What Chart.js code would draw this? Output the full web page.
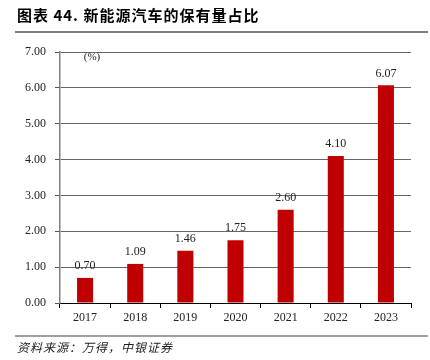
<!DOCTYPE html>
<html><head><meta charset="utf-8">
<script src="https://cdn.jsdelivr.net/npm/chart.js@4/dist/chart.umd.min.js"></script>
<style>html,body{margin:0;padding:0;background:#fff}#wrap{width:430px;height:360px;position:relative}</style>
</head><body><div id="wrap"><canvas id="c" width="430" height="360"></canvas></div>
<script>
const categories = ['2017','2018','2019','2020','2021','2022','2023'];
const shareValues = [0.70, 1.09, 1.46, 1.75, 2.60, 4.10, 6.07];
const yTicks = [0,1,2,3,4,5,6,7];
const titleText = '图表 44. 新能源汽车的保有量占比';
const sourceText = '资料来源：万得，中银证券';
const unitText = '(%)';

const serif = '"Liberation Serif","Times New Roman",serif';

const decor = {
  id:'decor',
  afterDraw(chart){
    const ctx = chart.ctx;
    ctx.save();
    // title
    ctx.fillStyle = '#000';
    ctx.font = 'bold 15px "Noto Sans CJK SC"';
    ctx.letterSpacing = '1px';
    ctx.textBaseline = 'middle';
    ctx.textAlign = 'left';
    ctx.fillText(titleText, 17, 15);
    ctx.strokeStyle = '#808080';
    ctx.lineWidth = 2;
    ctx.beginPath(); ctx.moveTo(15, 32); ctx.lineTo(428, 32); ctx.stroke();
    // bottom line
    ctx.lineWidth = 1.5;
    ctx.beginPath(); ctx.moveTo(15, 336); ctx.lineTo(428, 336); ctx.stroke();
    ctx.font = 'italic 12px "Noto Sans CJK SC"';
    ctx.letterSpacing = '1px';
    ctx.fillStyle = '#222';
    ctx.fillText(sourceText, 17, 347);
    ctx.letterSpacing = '0px';
    // unit
    ctx.font = '11px ' + serif;
    ctx.textAlign = 'center';
    ctx.fillText(unitText, 92, 57);
    // data labels
    const meta = chart.getDatasetMeta(0);
    ctx.font = '12px ' + serif;
    ctx.fillStyle = '#222';
    meta.data.forEach((bar, i) => {
      ctx.fillText(shareValues[i].toFixed(2), bar.x, bar.y - 12);
    });
    ctx.restore();
  }
};

new Chart(document.getElementById('c'), {
  type:'bar',
  data:{labels:categories, datasets:[{data:shareValues, backgroundColor:'#C00000', borderWidth:0, barPercentage:0.64, categoryPercentage:0.5}]},
  options:{
    responsive:false, animation:false,
    layout:{padding:{left:0, top:52, right:19, bottom:32}},
    plugins:{legend:{display:false}, tooltip:{enabled:false}},
    scales:{
      x:{
        grid:{drawOnChartArea:false, drawTicks:true, tickLength:5, color:'#000', offset:true},
        border:{color:'#000', width:1},
        ticks:{font:{family:serif, size:12}, color:'#222', padding:3},
        afterFit(s){ s.height = 25; }
      },
      y:{
        min:0, max:7,
        afterBuildTicks(s){ s.ticks = yTicks.map(v=>({value:v})); },
        grid:{color:'#666', lineWidth:1, borderDash:[2,2], tickLength:5, tickBorderDash:[], tickColor:'#555'},
        border:{color:'#808080', width:1.5},
        ticks:{font:{family:serif, size:12}, color:'#222', padding:9, callback:v=>Number(v).toFixed(2)},
        afterFit(s){ s.width = 60; }
      }
    }
  },
  plugins:[decor]
});
</script></body></html>
